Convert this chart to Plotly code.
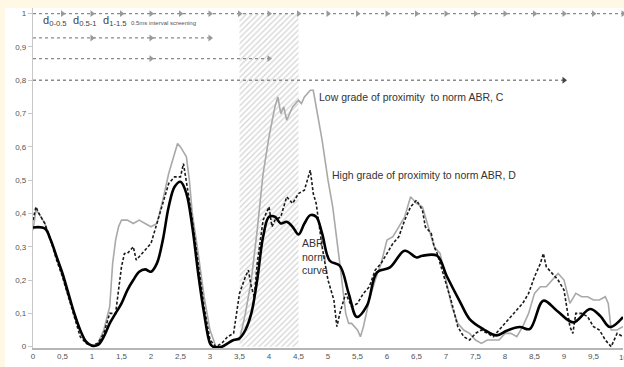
import plotly.graph_objects as go

# ---- data ----
x_norm = [0, 0.2, 0.3, 0.4, 0.5, 0.6, 0.7, 0.8, 0.9, 1.0, 1.1, 1.2, 1.3, 1.4, 1.5, 1.6, 1.7, 1.8, 1.9, 2.0,
          2.1, 2.2, 2.3, 2.4, 2.5, 2.6, 2.7, 2.8, 2.9, 3.0, 3.05, 3.2, 3.3, 3.4, 3.5, 3.6, 3.7, 3.8, 3.9, 4.0,
          4.1, 4.2, 4.3, 4.4, 4.5, 4.6, 4.7, 4.8, 4.9, 5.03, 5.2, 5.35, 5.49, 5.66, 5.83, 6.05, 6.3, 6.5, 6.6,
          6.85, 7.01, 7.24, 7.4, 7.63, 7.86, 8.03, 8.25, 8.42, 8.65, 8.88, 9.16, 9.44, 9.61, 9.78, 10.0]
y_norm = [0.358, 0.355, 0.32, 0.27, 0.22, 0.16, 0.10, 0.05, 0.015, 0.003, 0.005, 0.03, 0.07, 0.10, 0.13, 0.17,
          0.20, 0.225, 0.232, 0.225, 0.25, 0.32, 0.42, 0.48, 0.495, 0.46, 0.36, 0.22, 0.10, 0.01, 0.0, 0.0, 0.01,
          0.02, 0.025, 0.05, 0.10, 0.20, 0.33, 0.39, 0.39, 0.37, 0.375, 0.36, 0.337, 0.37, 0.395, 0.39, 0.34,
          0.258, 0.243, 0.16, 0.089, 0.123, 0.223, 0.238, 0.288, 0.268, 0.273, 0.273, 0.213, 0.134, 0.083, 0.053,
          0.034, 0.048, 0.059, 0.053, 0.138, 0.108, 0.073, 0.113, 0.093, 0.059, 0.089]

x_high = [0, 0.05, 0.1, 0.2, 0.3, 0.4, 0.5, 0.6, 0.7, 0.8, 0.9, 1.0, 1.1, 1.2, 1.3, 1.4, 1.5, 1.55, 1.6, 1.7,
          1.75, 1.8, 1.9, 2.0, 2.1, 2.2, 2.3, 2.4, 2.5, 2.55, 2.6, 2.65, 2.7, 2.8, 2.9, 3.0, 3.1, 3.2, 3.3, 3.4,
          3.5, 3.6, 3.65, 3.7, 3.75, 3.8, 3.9, 4.0, 4.05, 4.1, 4.2, 4.3, 4.4, 4.5, 4.6, 4.7, 4.75, 4.8, 4.9, 5.0,
          5.1, 5.15, 5.2, 5.3, 5.35, 5.4, 5.5, 5.6, 5.7, 5.8, 5.9, 6.0, 6.1, 6.2, 6.3, 6.4, 6.5, 6.6, 6.65, 6.75,
          6.8, 6.85, 7.0, 7.1, 7.2, 7.3, 7.4, 7.5, 7.6, 7.7, 7.8, 7.9, 8.0, 8.1, 8.2, 8.3, 8.4, 8.5, 8.6, 8.65,
          8.7, 8.8, 8.9, 9.0, 9.1, 9.15, 9.2, 9.3, 9.4, 9.5, 9.6, 9.7, 9.8, 9.9, 10.0]
y_high = [0.38, 0.42, 0.40, 0.37, 0.32, 0.26, 0.21, 0.15, 0.09, 0.03, 0.01, 0.003, 0.01, 0.04, 0.10, 0.10,
          0.24, 0.28, 0.28, 0.30, 0.26, 0.27, 0.29, 0.31, 0.37, 0.43, 0.49, 0.51, 0.51, 0.55, 0.50, 0.44, 0.38,
          0.25, 0.12, 0.02, 0.0, 0.01, 0.03, 0.04, 0.16, 0.21, 0.23, 0.18, 0.15, 0.25, 0.38, 0.42, 0.36, 0.38,
          0.39, 0.45, 0.43, 0.46, 0.47, 0.53, 0.46, 0.43, 0.30, 0.20, 0.14, 0.06, 0.10, 0.16, 0.14, 0.12, 0.13,
          0.16, 0.18, 0.23, 0.25, 0.28, 0.31, 0.33, 0.38, 0.42, 0.44, 0.41, 0.36, 0.34, 0.30, 0.28, 0.19, 0.13,
          0.06, 0.03, 0.02, 0.04, 0.05, 0.04, 0.03, 0.05, 0.07, 0.09, 0.11, 0.13, 0.16, 0.21, 0.25, 0.28, 0.24,
          0.22, 0.20, 0.17, 0.06, 0.04, 0.10, 0.10, 0.09, 0.06, 0.05, 0.02, 0.0, 0.04, 0.03]

x_low = [0, 0.05, 0.1, 0.2, 0.3, 0.4, 0.5, 0.6, 0.7, 0.8, 0.9, 1.0, 1.1, 1.2, 1.3, 1.35, 1.4, 1.45, 1.5, 1.6,
         1.7, 1.8, 1.9, 2.0, 2.1, 2.2, 2.3, 2.4, 2.45, 2.5, 2.6, 2.65, 2.7, 2.8, 2.9, 3.0, 3.1, 3.2, 3.3, 3.4,
         3.5, 3.6, 3.7, 3.8, 3.9, 4.0, 4.1, 4.15, 4.2, 4.25, 4.3, 4.35, 4.4, 4.5, 4.55, 4.6, 4.7, 4.75, 4.8,
         4.9, 5.0, 5.08, 5.2, 5.3, 5.35, 5.4, 5.5, 5.55, 5.6, 5.7, 5.8, 5.9, 6.0, 6.1, 6.2, 6.3, 6.4, 6.5, 6.6,
         6.7, 6.8, 6.9, 7.0, 7.1, 7.2, 7.3, 7.4, 7.5, 7.6, 7.7, 7.8, 7.9, 8.0, 8.1, 8.2, 8.3, 8.4, 8.5, 8.6,
         8.7, 8.8, 8.9, 9.0, 9.1, 9.2, 9.3, 9.4, 9.5, 9.6, 9.7, 9.75, 9.8, 9.9, 10.0]
y_low = [0.35, 0.41, 0.40, 0.37, 0.32, 0.27, 0.21, 0.15, 0.10, 0.05, 0.01, 0.003, 0.01, 0.05, 0.12, 0.25,
         0.32, 0.36, 0.38, 0.38, 0.37, 0.38, 0.37, 0.36, 0.37, 0.44, 0.52, 0.58, 0.61, 0.60, 0.57, 0.50, 0.40,
         0.28, 0.15, 0.05, 0.0, 0.0, 0.01, 0.02, 0.02, 0.10, 0.20, 0.35, 0.52, 0.63, 0.72, 0.75, 0.70, 0.72,
         0.68, 0.70, 0.72, 0.74, 0.73, 0.75, 0.77, 0.77, 0.72, 0.62, 0.50, 0.42, 0.25, 0.10, 0.07, 0.07, 0.05,
         0.03, 0.06, 0.14, 0.20, 0.25, 0.32, 0.33, 0.36, 0.39, 0.45, 0.43, 0.42, 0.36, 0.30, 0.28, 0.20, 0.12,
         0.07, 0.05, 0.04, 0.02, 0.01, 0.02, 0.02, 0.02, 0.04, 0.04, 0.03, 0.06, 0.10, 0.16, 0.18, 0.18, 0.20,
         0.22, 0.20, 0.13, 0.16, 0.15, 0.15, 0.14, 0.14, 0.15, 0.13, 0.05, 0.05, 0.06]

# hatched window
shade_start = 3.5
shade_end = 4.5

# screening arrows rows: level, end and marker positions
row_levels = [1.0, 0.927, 0.865, 0.80]
row_ends = [10, 3, 4, 9]
row_marks = [
    [0.5, 1, 1.5, 2, 2.5, 3, 3.5, 4, 4.5, 5, 5.5, 6, 6.5, 7, 7.5, 8, 8.5, 9, 9.5, 10],
    [1, 2, 3],
    [2, 4],
    [9],
]

x_ticks = [0, 0.5, 1, 1.5, 2, 2.5, 3, 3.5, 4, 4.5, 5, 5.5, 6, 6.5, 7, 7.5, 8, 8.5, 9, 9.5]
x_ticktext = ["0", "0,5", "1", "1,5", "2", "2,5", "3", "3,5", "4", "4,5", "5", "5,5", "6", "6,5", "7",
              "7,5", "8", "8,5", "9", "9,5"]
x_last_tick = 10
x_last_text = "10"
y_ticks = [0, 0.1, 0.2, 0.3, 0.4, 0.5, 0.6, 0.7, 0.8, 0.9, 1]
y_ticktext = ["0", "0,1", "0,2", "0,3", "0,4", "0,5", "0,6", "0,7", "0,8", "0,9", "1"]

FONT = "Liberation Sans, Arial, sans-serif"
CREAM = "#fff8e4"

fig = go.Figure()

# hatched region
fig.add_trace(go.Scatter(
    x=[shade_start, shade_end, shade_end, shade_start, shade_start],
    y=[0, 0, 1, 1, 0],
    fill="toself", mode="lines", line=dict(width=0, color="rgba(0,0,0,0)"),
    fillcolor="rgba(0,0,0,0)",
    fillpattern=dict(shape="/", fgcolor="#a8a8a8", bgcolor="white", size=4, solidity=0.3),
    hoverinfo="skip", showlegend=False))

# screening rows
for lvl, end, marks in zip(row_levels, row_ends, row_marks):
    fig.add_trace(go.Scatter(x=[0, end], y=[lvl, lvl], mode="lines",
                             line=dict(color="#8a8a8a", width=1.3, dash="dot"),
                             hoverinfo="skip", showlegend=False))
    fig.add_trace(go.Scatter(x=marks, y=[lvl] * len(marks), mode="markers",
                             marker=dict(symbol="triangle-right", size=6,
                                         color="#444" if end == 9 else "#999"),
                             cliponaxis=False, hoverinfo="skip", showlegend=False))

# curves
fig.add_trace(go.Scatter(x=x_low, y=y_low, mode="lines", line=dict(color="#a9a9a9", width=1.6),
                         name="Low grade", showlegend=False))
fig.add_trace(go.Scatter(x=x_high, y=y_high, mode="lines",
                         line=dict(color="#1a1a1a", width=1.6, dash="3px,2px"),
                         name="High grade", showlegend=False))
fig.add_trace(go.Scatter(x=x_norm, y=y_norm, mode="lines", line=dict(color="black", width=2.6),
                         line_shape="spline", name="ABR norm curve", showlegend=False))

# cream border strips (top and left)
fig.add_shape(type="rect", xref="paper", yref="paper", x0=-0.06, x1=1.01, y0=0.997, y1=1.03,
              fillcolor=CREAM, line=dict(width=0), layer="above")
fig.add_shape(type="rect", xref="paper", yref="paper", x0=-0.06, x1=-0.0475, y0=-0.1, y1=1.03,
              fillcolor=CREAM, line=dict(width=0), layer="above")

ann_font = dict(family=FONT, size=10.5, color="#333")
fig.add_annotation(x=4.81, y=0.749, text="Low grade of proximity  to norm ABR, C", showarrow=False,
                   xanchor="left", yanchor="middle", font=ann_font)
fig.add_annotation(x=5.03, y=0.517, text="High grade of proximity to norm ABR, D", showarrow=False,
                   xanchor="left", yanchor="middle", font=ann_font)
fig.add_annotation(x=4.52, y=0.272, text="ABR<br>norm<br>curve", showarrow=False, align="left",
                   xanchor="left", yanchor="middle", font=ann_font)

sub_font = dict(family=FONT, size=11, color="#444")
fig.add_annotation(x=0.14, y=0.978, text="d<sub>0-0.5</sub>", showarrow=False, xanchor="left",
                   yanchor="middle", font=sub_font)
fig.add_annotation(x=0.64, y=0.978, text="d<sub>0.5-1</sub>", showarrow=False, xanchor="left",
                   yanchor="middle", font=sub_font)
fig.add_annotation(x=1.15, y=0.978, text="d<sub>1-1.5</sub>", showarrow=False, xanchor="left",
                   yanchor="middle", font=sub_font)
fig.add_annotation(x=1.63, y=0.972, text="0.5ms interval screening", showarrow=False, xanchor="left",
                   yanchor="middle", font=dict(family=FONT, size=6, color="#555"))

# last x tick label (partly beyond the right edge, as in the original)
fig.add_annotation(x=x_last_tick, xref="x", y=0, yref="paper", yshift=-3, text=x_last_text,
                   showarrow=False, xanchor="center", yanchor="top",
                   font=dict(family=FONT, size=8, color="#555"))

fig.update_layout(
    width=624, height=367,
    margin=dict(l=33, r=1, t=7, b=19, autoexpand=False),
    paper_bgcolor="white",
    plot_bgcolor="white",
    showlegend=False,
    xaxis=dict(range=[0, 10], tickvals=x_ticks, ticktext=x_ticktext, showgrid=False, zeroline=False,
               showline=True, linecolor="#b5b5b5", linewidth=1.6, ticks="", automargin=False,
               tickfont=dict(family=FONT, size=8, color="#555")),
    yaxis=dict(range=[-0.004, 1.02], tickvals=y_ticks, ticktext=y_ticktext, showgrid=False,
               zeroline=False, showline=True, linecolor="#c8c8c8", linewidth=1.2, ticks="outside",
               ticklen=4, tickcolor="#c8c8c8", automargin=False,
               tickfont=dict(family=FONT, size=8, color="#555")),
)

fig.write_html("out.html", config={"displayModeBar": False},
               post_script="document.body.style.margin='0';document.body.style.background='%s';" % CREAM)
